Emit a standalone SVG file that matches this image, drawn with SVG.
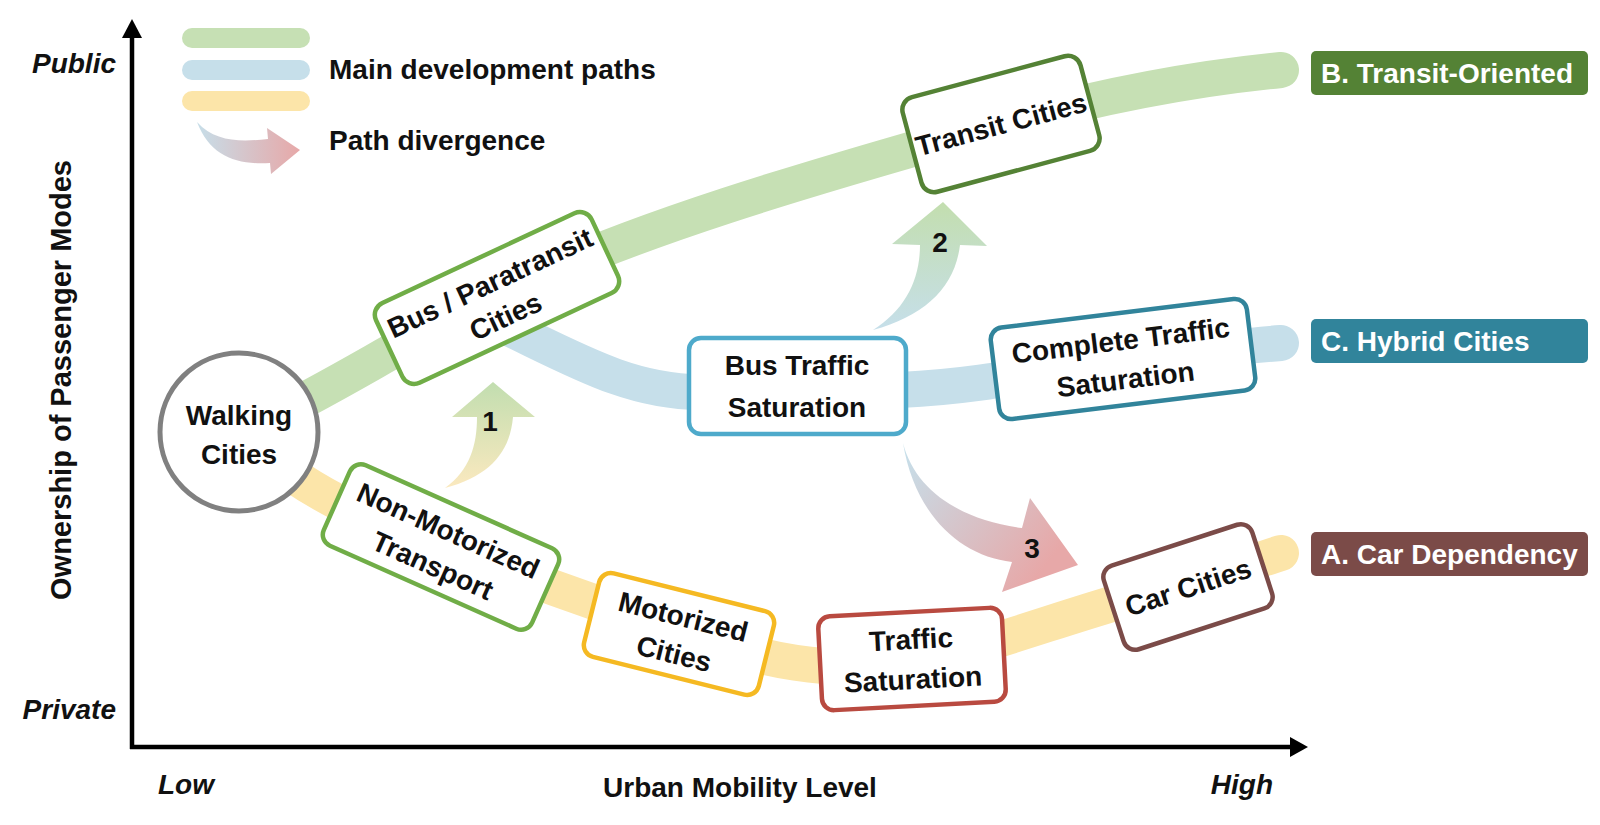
<svg xmlns="http://www.w3.org/2000/svg" width="1600" height="825" viewBox="0 0 1600 825">
<style>
.t{font-family:"Liberation Sans",Arial,sans-serif;font-weight:bold;font-size:28px;fill:#111;}
.c{text-anchor:middle;}
.i{font-style:italic;}
.w{fill:#fff;}
.band{fill:none;stroke-width:36;stroke-linecap:round;stroke-linejoin:round;}
.box{fill:#fff;stroke-width:4.5;}
.ax{stroke:#000;stroke-width:4.5;fill:none;}
</style>
<defs>
<linearGradient id="g1" gradientUnits="userSpaceOnUse" x1="0" y1="385" x2="0" y2="488"><stop offset="0" stop-color="#c3deb0"/><stop offset="1" stop-color="#fbe9bf"/></linearGradient>
<linearGradient id="g2" gradientUnits="userSpaceOnUse" x1="0" y1="205" x2="0" y2="330"><stop offset="0" stop-color="#c3deb0"/><stop offset="1" stop-color="#c6dfea"/></linearGradient>
<linearGradient id="g3" gradientUnits="userSpaceOnUse" x1="905" y1="450" x2="1050" y2="560"><stop offset="0" stop-color="#c6dfea"/><stop offset="1" stop-color="#e7a8a8"/></linearGradient>
<linearGradient id="g4" gradientUnits="userSpaceOnUse" x1="195" y1="0" x2="300" y2="0"><stop offset="0" stop-color="#c6dfea"/><stop offset="1" stop-color="#e7a8a8"/></linearGradient>
</defs>
<rect width="1600" height="825" fill="#fff"/>

<g id="axes">
<line class="ax" x1="132" y1="749" x2="132" y2="36"/>
<polygon points="132,19 122,38 142,38" fill="#000"/>
<line class="ax" x1="130" y1="747" x2="1292" y2="747"/>
<polygon points="1308,747 1290,737 1290,757" fill="#000"/>
<text class="t i" x="116" y="73" text-anchor="end">Public</text>
<text class="t i" x="116" y="719" text-anchor="end">Private</text>
<text class="t i" x="158" y="794">Low</text>
<text class="t i" x="1273" y="794" text-anchor="end">High</text>
<text class="t c" x="740" y="797">Urban Mobility Level</text>
<text class="t c" style="font-size:29px" transform="translate(71,380) rotate(-90)">Ownership of Passenger Modes</text>
</g>

<g id="legend">
<rect x="182" y="28" width="128" height="20" rx="10" fill="#c6e0b4"/>
<rect x="182" y="60" width="128" height="20" rx="10" fill="#c6dfea"/>
<rect x="182" y="91" width="128" height="20" rx="10" fill="#fce5a9"/>
<text class="t" x="329" y="79">Main development paths</text>
<path d="M 197 122 C 215 142 240 142 268 139 L 267 128 L 300 150 L 271 174 L 270 163 C 236 165 210 156 197 122 Z" fill="url(#g4)"/>
<text class="t" x="329" y="150">Path divergence</text>
</g>

<g id="connectors">
<path class="band" stroke="#c6e0b4" d="M 250 428 C 350 380 420 330 497 298 C 610 235 830 172 1001 124 C 1100 96 1200 78 1281 70"/>
<path class="band" stroke="#c6dfea" d="M 470 310 C 560 350 620 392 700 392 L 900 390 C 1000 385 1050 368 1123 360 C 1190 352 1240 346 1281 343"/>
<path class="band" stroke="#fce5a9" d="M 250 440 C 300 490 370 520 441 546 C 530 580 600 605 682 632 C 760 660 830 676 912 662 C 1000 645 1090 605 1186 585 C 1230 571 1258 560 1281 553"/>
<path d="M 445 488 C 470 470 477 445 477 417 L 452 417 L 493 382 L 535 417 L 513 417 C 510 452 490 476 445 488 Z" fill="url(#g1)"/>
<text class="t c" x="490" y="431">1</text>
<path d="M 873 330 C 905 310 920 280 920 245 L 892 244 L 943 202 L 987 246 L 960 245 C 955 287 925 316 873 330 Z" fill="url(#g2)"/>
<text class="t c" x="940" y="252">2</text>
<path d="M 903 443 C 915 490 960 520 1022 528 L 1030 498 L 1078 565 L 1002 592 L 1012 562 C 960 556 915 515 903 443 Z" fill="url(#g3)"/>
<text class="t c" x="1032" y="558">3</text>
</g>

<g id="walking">
<circle cx="239" cy="432" r="79" fill="#fff" stroke="#808080" stroke-width="5"/>
<text class="t c" x="239" y="425">Walking</text>
<text class="t c" x="239" y="464">Cities</text>
</g>

<g id="bus-paratransit" transform="translate(497,298) rotate(-25)">
<rect class="box" x="-119" y="-44" width="238" height="88" rx="13" stroke="#70ad47"/>
<text class="t c" x="0" y="-7">Bus / Paratransit</text>
<text class="t c" x="0" y="30">Cities</text>
</g>

<g id="transit" transform="translate(1001,124) rotate(-15)">
<rect class="box" x="-92" y="-49" width="184" height="98" rx="13" stroke="#548235"/>
<text class="t c" x="0" y="10">Transit Cities</text>
</g>

<g id="bus-traffic" transform="translate(797,386)">
<rect class="box" x="-108" y="-48" width="217" height="96" rx="12" stroke="#4eaacb"/>
<text class="t c" x="0" y="-11">Bus Traffic</text>
<text class="t c" x="0" y="31">Saturation</text>
</g>

<g id="complete-traffic" transform="translate(1123,359) rotate(-7)">
<rect class="box" x="-129" y="-46" width="258" height="92" rx="12" stroke="#31849b"/>
<text class="t c" x="0" y="-9">Complete Traffic</text>
<text class="t c" x="0" y="30">Saturation</text>
</g>

<g id="non-motorized" transform="translate(441,547) rotate(24)">
<rect class="box" x="-114" y="-44" width="228" height="88" rx="12" stroke="#70ad47"/>
<text class="t c" x="0" y="-8">Non-Motorized</text>
<text class="t c" x="0" y="30">Transport</text>
</g>

<g id="motorized" transform="translate(679,634) rotate(14)">
<rect class="box" x="-90" y="-43" width="180" height="86" rx="12" stroke="#f5b922"/>
<text class="t c" x="0" y="-8">Motorized</text>
<text class="t c" x="0" y="30">Cities</text>
</g>

<g id="traffic-saturation" transform="translate(912,659) rotate(-3)">
<rect class="box" x="-92" y="-47" width="184" height="94" rx="12" stroke="#b94a40"/>
<text class="t c" x="0" y="-10">Traffic</text>
<text class="t c" x="0" y="30">Saturation</text>
</g>

<g id="car-cities" transform="translate(1188,587) rotate(-18)">
<rect class="box" x="-78" y="-44" width="156" height="88" rx="12" stroke="#7b4b48"/>
<text class="t c" x="0" y="10">Car Cities</text>
</g>

<g id="label-b">
<rect x="1311" y="51" width="277" height="44" rx="5" fill="#548235"/>
<text class="t w" x="1321" y="83">B. Transit-Oriented</text>
</g>
<g id="label-c">
<rect x="1311" y="319" width="277" height="44" rx="5" fill="#31849b"/>
<text class="t w" x="1321" y="351">C. Hybrid Cities</text>
</g>
<g id="label-a">
<rect x="1311" y="532" width="277" height="44" rx="5" fill="#7b4b48"/>
<text class="t w" x="1321" y="564">A. Car Dependency</text>
</g>
</svg>
